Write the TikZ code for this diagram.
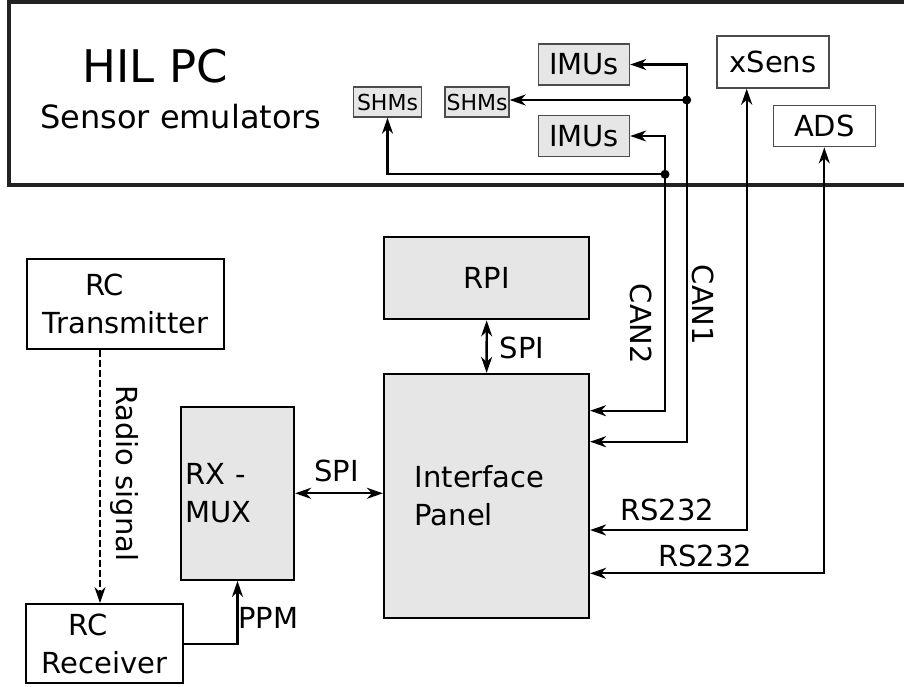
\documentclass[tikz,border=0pt]{standalone}
\usepackage{fontspec}
\setmainfont{DejaVu Sans}
\usetikzlibrary{arrows.meta}
\definecolor{boxgray}{HTML}{E6E6E6}
\definecolor{framegray}{HTML}{222222}

\begin{document}
\begin{tikzpicture}[x=1pt, y=-1pt,
  >={Stealth[length=16pt,width=11pt,inset=5pt]},
  every node/.style={font=\fontsize{29}{38}\selectfont},
  link/.style={line width=2.3pt},
  block/.style={draw, line width=2.2pt, fill=boxgray, inner sep=0pt},
  plainblock/.style={draw, line width=2.2pt, fill=white, align=center, inner sep=0pt},
  sensor/.style={draw=black!70, line width=1.4pt, fill=boxgray, inner sep=0pt},
  plainsensor/.style={draw=black!70, line width=1.4pt, fill=white, inner sep=0pt},
  lbl/.style={inner sep=0pt, anchor=base west}]
  \useasboundingbox (0,0) rectangle (904,686);
  % HIL PC
  \draw[line width=4pt, framegray] (9,2) rectangle (940,185);
  \node[lbl, font=\fontsize{45}{54}\selectfont] (hilpc) at (82.6,82) {HIL PC};
  \node[lbl, font=\fontsize{32}{38}\selectfont] (emu) at (40,128) {Sensor emulators};
  \node[sensor, font=\fontsize{22}{26}\selectfont, minimum width=68pt, minimum height=30pt] (shmA) at (387.5,102) {SHMs};
  \node[sensor, font=\fontsize{22}{26}\selectfont, minimum width=64pt, minimum height=30pt] (shmB) at (477,102) {SHMs};
  \node[sensor, minimum width=91pt, minimum height=41pt] (imuA) at (584,64.5) {IMUs};
  \node[sensor, minimum width=91pt, minimum height=41pt] (imuB) at (584,136) {IMUs};
  \node[plainsensor, minimum width=112pt, minimum height=52pt] (xsens) at (773,62) {xSens};
  \node[plainsensor, minimum width=102pt, minimum height=41pt] (ads) at (824.3,126.2) {ADS};
  % boards
  \node[block, minimum width=205pt, minimum height=82pt] (rpi) at (486.7,278.3) {RPI};
  \node[block, minimum height=244pt, text width=143.6pt, inner xsep=30.7pt, align=left] (panel) at (486.5,496) {Interface\\Panel};
  \node[block, minimum height=173pt, text width=104pt, inner xsep=4.5pt, align=left] (rxmux) at (237.5,493.3) {RX -\\MUX};
  \node[plainblock, minimum width=197pt, minimum height=90pt] (rctx) at (125.7,304.3) {\makebox[2.8em][l]{RC}\\Transmitter};
  \node[plainblock, minimum width=157pt, minimum height=79pt] (rcrx) at (104.7,643.7) {\makebox[2.5em][l]{RC}\\Receiver};
  % bus corners
  \coordinate (j1) at (686.7,100);
  \coordinate (j2) at (665,174.3);
  \coordinate (c1) at (686.7,441.7);
  \coordinate (c2) at (665,410.7);
  \coordinate (x1) at (746.7,530);
  \coordinate (a1) at (824.3,573.3);
  \coordinate (r1) at (100,0);
  % CAN1
  \draw[link,->] (j1) |- (imuA.east);
  \draw[link,->] (j1) -- (j1 -| shmB.east);
  \draw[link,->] (j1) -- (c1) -- (c1 -| panel.east);
  \fill (j1) circle (4.5pt);
  % CAN2
  \draw[link,->] (j2) |- (imuB.east);
  \draw[link,->] (j2) -| (shmA.south);
  \draw[link,->] (j2) -- (c2) -- (c2 -| panel.east);
  \fill (j2) circle (4.5pt);
  % RS232
  \draw[link,<->] (x1 |- xsens.south) -- (x1) -- (x1 -| panel.east);
  \draw[link,<->] (ads.south) |- (a1 -| panel.east);
  % SPI, radio, PPM
  \draw[link,<->] (rpi) -- (panel);
  \draw[link,<->] (rxmux.east) -- (rxmux.east -| panel.west);
  \draw[line width=1.9pt,->,dash pattern=on 7pt off 3pt] (rctx.south -| r1) -- (rcrx.north -| r1);
  \draw[link,->] (rcrx.east) -| (rxmux.south);
  % labels
  \node[lbl] (spiA) at (499.7,358.3) {SPI};
  \node[lbl] (spiB) at (314,481.7) {SPI};
  \node[rotate=-90, inner sep=0pt] (can2) at (641,324) {CAN2};
  \node[rotate=-90, inner sep=0pt] (can1) at (703.3,305) {CAN1};
  \node[rotate=-90, inner sep=0pt] (radio) at (124.2,473.3) {Radio signal};
  \node[lbl] (rsA) at (620,520.7) {RS232};
  \node[lbl] (rsB) at (658,566) {RS232};
  \node[lbl] (ppm) at (238,628.3) {PPM};
\end{tikzpicture}
\end{document}
